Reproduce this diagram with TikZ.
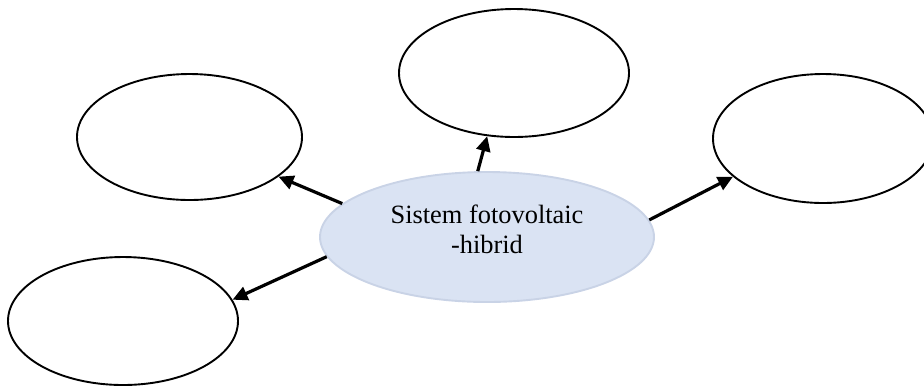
\documentclass[tikz,border=0pt]{standalone}
\usepackage{fontspec}
\setmainfont{Liberation Serif}
\usetikzlibrary{arrows.meta, shapes.geometric}
\definecolor{hubfill}{HTML}{DAE3F3}
\definecolor{hubline}{HTML}{C9D3E6}
\tikzset{
    bubble/.style={ellipse, draw=black, line width=0.95pt, inner sep=0pt},
    link/.style={-{Triangle[length=7.5pt, width=7pt]}, line width=1.6pt},
}

\begin{document}
\begin{tikzpicture}[x=0.5pt, y=-0.5pt]
    \useasboundingbox (0,0) rectangle (924,387);
    % central ellipse
    \node[bubble, draw=hubline, fill=hubfill, minimum width=167pt, minimum height=65pt] (mid) at (487,237) {};
    \node[align=center, font=\fontsize{13.2}{15}\selectfont] (lbl) at (487,229.5) {Sistem fotovoltaic\\-hibrid};

    % empty ellipses
    \node[bubble, minimum width=115pt, minimum height=64pt] (top) at (514,73) {};
    \node[bubble, minimum width=112.5pt, minimum height=63pt] (lup) at (189.5,137) {};
    \node[bubble, minimum width=110pt, minimum height=64.5pt] (rgt) at (823,138.5) {};
    \node[bubble, minimum width=115pt, minimum height=64pt] (ldn) at (123,321) {};

    % arrows out of the centre
    \draw[link] (mid.98) -- (top.247);
    \draw[link] (mid.167) -- (lup.336);
    \draw[link] (mid.6) -- (rgt.203);
    \draw[link] (mid.187.5) -- (ldn.11);
\end{tikzpicture}
\end{document}
